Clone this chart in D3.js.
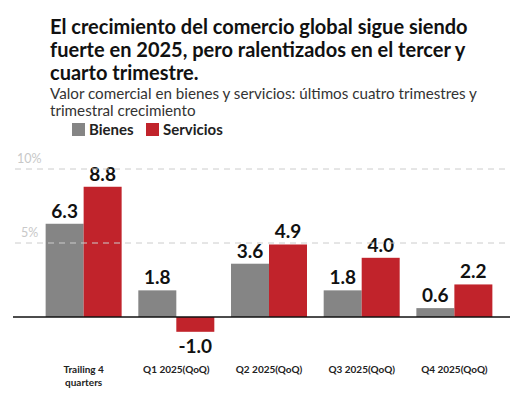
<!DOCTYPE html>
<html><head><meta charset="utf-8">
<script src="https://cdn.jsdelivr.net/npm/d3@7"></script>
<style>body{margin:0;background:#fff;font-family:Lato,sans-serif}</style>
</head><body><svg id="c" width="524" height="400"></svg>
<script>
const categories = ["Trailing 4\nquarters", "Q1 2025(QoQ)", "Q2 2025(QoQ)", "Q3 2025(QoQ)", "Q4 2025(QoQ)"];
const bienes = [6.3, 1.8, 3.6, 1.8, 0.6];
const servicios = [8.8, -1.0, 4.9, 4.0, 2.2];
const yTicks = [5, 10];

const svg = d3.select("#c");
const gray = "#858585", red = "#c1232b";

// title
const title = ["El crecimiento del comercio global sigue siendo",
  "fuerte en 2025, pero ralentizados en el tercer y", "cuarto trimestre."];
title.forEach((t, i) => svg.append("text").attr("x", 50).attr("y", 34 + i * 23)
  .attr("font-size", 20).attr("font-weight", 700).attr("fill", "#111").text(t));
["Valor comercial en bienes y servicios: últimos cuatro trimestres y", "trimestral crecimiento"]
  .forEach((t, i) => svg.append("text").attr("x", 50).attr("y", 99 + i * 17)
  .attr("font-size", 15.2).attr("fill", "#333").text(t));

// legend
[["Bienes", gray, 72], ["Servicios", red, 146]].forEach(([l, c, x]) => {
  svg.append("rect").attr("x", x).attr("y", 123).attr("width", 13).attr("height", 13).attr("fill", c);
  svg.append("text").attr("x", x + 17).attr("y", 135).attr("font-size", 15)
    .attr("font-weight", 700).attr("fill", "#222").text(l);
});

const y = d3.scaleLinear().domain([0, 5]).range([317, 243]);
const x = d3.scaleBand().domain(d3.range(categories.length)).range([41, 497]).paddingInner(0.18).paddingOuter(0.05);
const sub = d3.scaleBand().domain([0, 1]).range([0, x.bandwidth()]);

const g = svg.append("g");
categories.forEach((c, i) => {
  [bienes[i], servicios[i]].forEach((v, j) => {
    const bx = x(i) + sub(j);
    g.append("rect").attr("x", bx).attr("width", sub.bandwidth())
      .attr("y", Math.min(y(v), y(0))).attr("height", Math.abs(y(v) - y(0)))
      .attr("fill", j ? red : gray);
    g.append("text").attr("x", bx + sub.bandwidth() / 2)
      .attr("y", v >= 0 ? y(v) - 6 : y(v) + 21)
      .attr("text-anchor", "middle").attr("font-size", 19).attr("font-weight", 700)
      .attr("fill", "#111").text(v.toFixed(1));
  });
  c.split("\n").forEach((t, k) => svg.append("text").attr("x", x(i) + x.bandwidth() / 2)
    .attr("y", 373 + k * 13).attr("text-anchor", "middle").attr("font-size", 10)
    .attr("font-weight", 700).attr("fill", "#222").text(t));
});

// gridlines on top
yTicks.forEach(t => {
  svg.append("line").attr("x1", 15).attr("x2", 510).attr("y1", y(t)).attr("y2", y(t))
    .attr("stroke", "#ccc").attr("stroke-dasharray", "6,5").attr("stroke-width", 1);
  svg.append("text").attr("x", t === 10 ? 17 : 21).attr("y", y(t) - 6).attr("font-size", 12.5)
    .attr("fill", "#c8c8c8").text(t + "%");
});
svg.append("line").attr("x1", 13).attr("x2", 510).attr("y1", y(0)).attr("y2", y(0))
  .attr("stroke", "#111").attr("stroke-width", 1.3);
</script></body></html>
